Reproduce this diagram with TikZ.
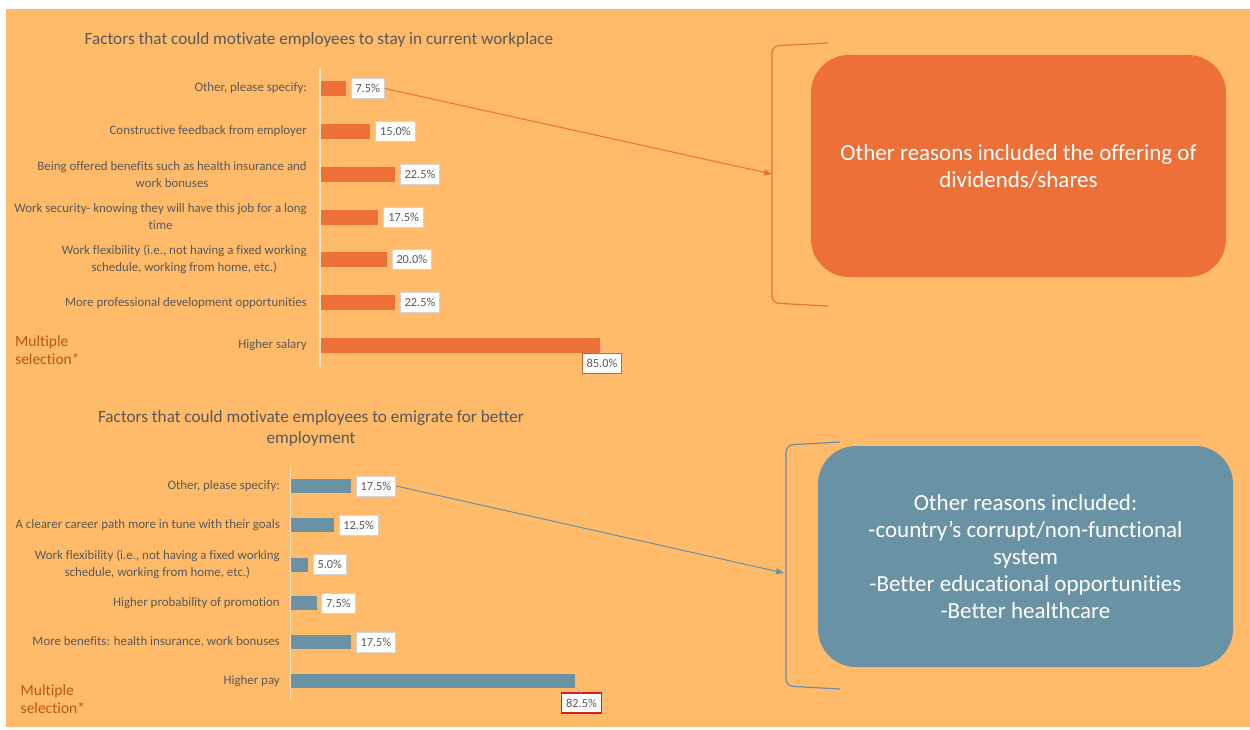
\documentclass[tikz,border=0pt]{standalone}
\usepackage{fontspec}
\setmainfont{Carlito}[Ligatures=NoCommon]
\usetikzlibrary{arrows.meta}
\definecolor{bgor}{HTML}{FFBA6A}
\definecolor{baror}{HTML}{EC7037}
\definecolor{barbl}{HTML}{6A92A5}
\definecolor{txtg}{HTML}{595959}
\definecolor{selc}{HTML}{B8561A}
\definecolor{redb}{HTML}{D21F1F}
\definecolor{orb}{HTML}{D8602C}
\definecolor{axisc}{HTML}{FBE3C4}
\begin{document}
\begin{tikzpicture}[x=1pt,y=-1pt,
  catlbl/.style={anchor=east, align=center, inner sep=0pt, text=txtg, font=\fontsize{12.9}{17}\selectfont},
  barbox/.style={anchor=west, inner sep=0pt, outer sep=0pt, minimum height=15pt},
  orbar/.style={barbox, fill=baror},
  blbar/.style={barbox, fill=barbl, minimum height=14pt},
  valbox/.style={anchor=west, draw=gray!35, fill=white, text=txtg, inner xsep=4.5pt, inner ysep=0pt, minimum height=20pt, font=\fontsize{12.3}{14}\selectfont, line width=0.8pt},
  redval/.style={valbox, line width=1.1pt, anchor=center},
  ttl/.style={align=center, text=txtg, font=\fontsize{17.2}{21}\selectfont, inner sep=0pt},
  multsel/.style={anchor=west, align=left, text=selc, font=\fontsize{15.5}{18}\selectfont, inner sep=0pt},
  axisln/.style={draw=axisc, line width=1.2pt},
  leader/.style={draw=gray!60, line width=0.8pt},
  infobox/.style={rounded corners=38pt, inner sep=0pt, text=white, align=center, font=\fontsize{23}{27}\selectfont},
  bracketln/.style={rounded corners=7pt, line width=1.2pt},
  arr/.style={line width=1pt, -{Triangle[length=8pt,width=6pt]}}
]
\useasboundingbox (0,0) rectangle (1250,729);
\fill[white] (0,0) rectangle (1250,729);
\fill[bgor] (6,9) rectangle (1250,727);

% ---------------- Top chart ----------------
\node[ttl] (t1) at (319,40) {Factors that could motivate employees to stay in current workplace};
\draw[axisln] (320,68) -- (320,367);

\node[orbar, minimum width=24.6pt] (a1) at (321,88.5) {};
\node[orbar, minimum width=49.2pt] (a2) at (321,131.3) {};
\node[orbar, minimum width=73.8pt] (a3) at (321,174.2) {};
\node[orbar, minimum width=57.4pt] (a4) at (321,217) {};
\node[orbar, minimum width=65.6pt] (a5) at (321,259.8) {};
\node[orbar, minimum width=73.8pt] (a6) at (321,302.7) {};
\node[orbar, minimum width=279pt] (a7) at (321,345.5) {};

\node[catlbl] (c1) at (307,88.5) {Other, please specify:};
\node[catlbl] (c2) at (307,131.3) {Constructive feedback from employer};
\node[catlbl] (c3) at (307,174.2) {Being offered benefits such as health insurance and\\work bonuses};
\node[catlbl] (c4) at (307,217) {Work security- knowing they will have this job for a long\\time};
\node[catlbl] (c5) at (307,259.8) {Work flexibility (i.e., not having a fixed working\\schedule, working from home, etc.)};
\node[catlbl] (c6) at (307,302.7) {More professional development opportunities};
\node[catlbl] (c7) at (307,345.5) {Higher salary};

\node[valbox] (v1) at ([xshift=5pt]a1.east) {7.5\%};
\node[valbox] (v2) at ([xshift=5pt]a2.east) {15.0\%};
\node[valbox] (v3) at ([xshift=5pt]a3.east) {22.5\%};
\node[valbox] (v4) at ([xshift=5pt]a4.east) {17.5\%};
\node[valbox] (v5) at ([xshift=5pt]a5.east) {20.0\%};
\node[valbox] (v6) at ([xshift=5pt]a6.east) {22.5\%};
\node[redval, draw=orb] (v7) at (602,363.5) {85.0\%};
\draw[leader] (a7.east) -- (v7.north);

\node[multsel] (m1) at (15,350) {Multiple\\selection*};

% top info box and bracket
\node[infobox, fill=baror, minimum width=415pt, minimum height=222pt] (ob) at (1018.5,166)
  {Other reasons included the offering of\\dividends/shares};
\draw[bracketln, draw=baror] (828,43) -- (772,46) -- (772,303) -- (828,306);
\coordinate (k1) at (772,174);
\draw[arr, draw=baror, fill=baror] (v1.east) -- (k1);

% ---------------- Bottom chart ----------------
\node[ttl] (t2) at (311,428.5) {Factors that could motivate employees to emigrate for better\\employment};
\draw[axisln] (290.5,467) -- (290.5,700);

\node[blbar, minimum width=60.2pt] (b1) at (291,486) {};
\node[blbar, minimum width=43pt] (b2) at (291,525) {};
\node[blbar, minimum width=17.2pt] (b3) at (291,564.5) {};
\node[blbar, minimum width=25.8pt] (b4) at (291,603) {};
\node[blbar, minimum width=60.2pt] (b5) at (291,642) {};
\node[blbar, minimum width=284pt] (b6) at (291,681) {};

\node[catlbl] (d1) at (280,486) {Other, please specify:};
\node[catlbl] (d2) at (280,525) {A clearer career path more in tune with their goals};
\node[catlbl] (d3) at (280,564.5) {Work flexibility (i.e., not having a fixed working\\schedule, working from home, etc.)};
\node[catlbl] (d4) at (280,603) {Higher probability of promotion};
\node[catlbl] (d5) at (280,642) {More benefits: health insurance, work bonuses};
\node[catlbl] (d6) at (280,681) {Higher pay};

\node[valbox] (w1) at ([xshift=4.5pt]b1.east) {17.5\%};
\node[valbox] (w2) at ([xshift=4.5pt]b2.east) {12.5\%};
\node[valbox] (w3) at ([xshift=4.5pt]b3.east) {5.0\%};
\node[valbox] (w4) at ([xshift=4.5pt]b4.east) {7.5\%};
\node[valbox] (w5) at ([xshift=4.5pt]b5.east) {17.5\%};
\node[redval, draw=redb] (w6) at (581.5,703) {82.5\%};
\draw[leader] (b6.south east) -- (w6.north);

\node[multsel] (m2) at (20.5,699) {Multiple\\selection*};

% bottom info box and bracket
\node[infobox, fill=barbl, minimum width=415pt, minimum height=221pt] (bb) at (1025.5,556.5)
  {Other reasons included:\\-country’s corrupt/non-functional\\system\\-Better educational opportunities\\-Better healthcare};
\draw[bracketln, draw=barbl] (840,442) -- (786,445) -- (786,686) -- (840,689);
\coordinate (k2) at (784,573);
\draw[arr, draw=barbl, fill=barbl] (w1.east) -- (k2);
\end{tikzpicture}
\end{document}
